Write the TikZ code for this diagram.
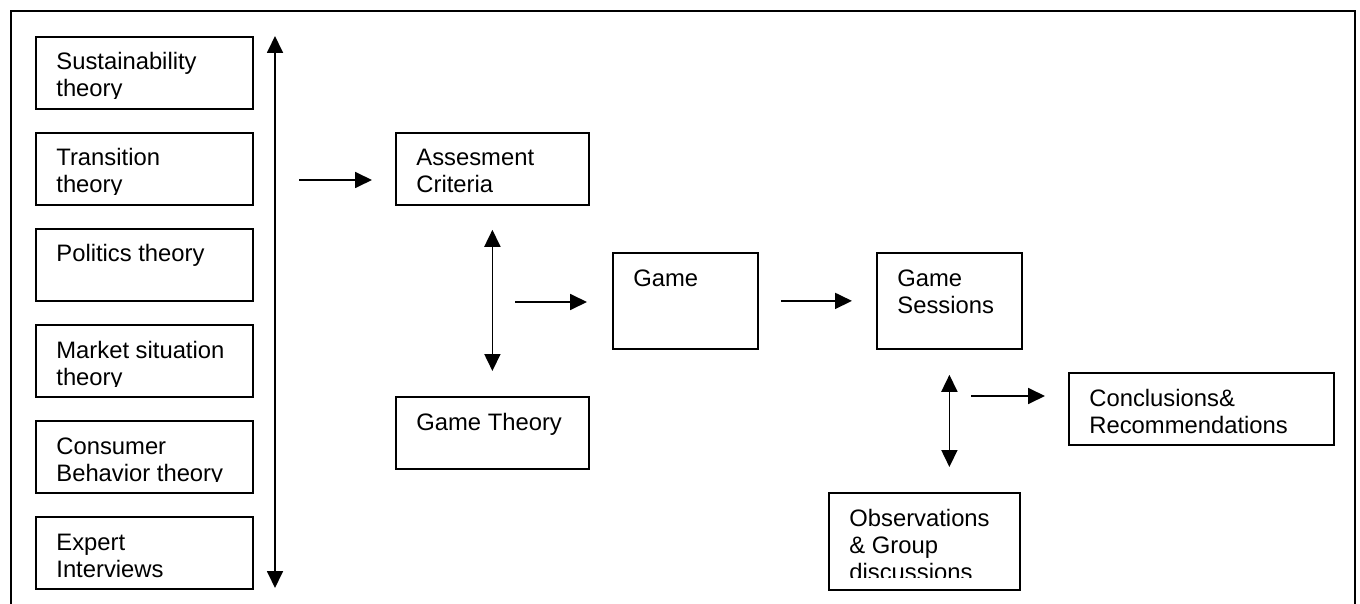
\documentclass[tikz,border=0pt]{standalone}
\usepackage{fontspec}
\setmainfont{Liberation Sans}
\usetikzlibrary{arrows.meta}

% Place clipped, left-aligned text inside a named box
% (#1 = bottom inset of the text area, #2 = box name, #3 = text)
\newcommand\boxlabel[3][5.5pt]{%
  \begin{scope}
    \clip ([yshift=#1]#2.south west) rectangle (#2.north east);
    \node[lbl] (#2-t) at ([xshift=10.5pt,yshift=-17pt]#2.north west)
      {\parbox[t]{200pt}{\raggedright #3}};
  \end{scope}}

\tikzset{
  box/.style={draw, line width=0.9pt, inner sep=0pt, anchor=north west},
  lbl/.style={anchor=base west, inner sep=0pt,
    font=\fontsize{11.9pt}{13.5pt}\selectfont},
  frame/.style={line width=0.9pt},
  tip/.style={Triangle[length=8.5pt,width=8pt]},
  conn/.style={line width=0.9pt, -{Triangle[length=8.5pt,width=8pt]}},
  dconn/.style={line width=0.9pt,
    {Triangle[length=8.5pt,width=8pt]}-{Triangle[length=8.5pt,width=8pt]}},
}

\begin{document}
\begin{tikzpicture}[x=0.5pt, y=-0.5pt]
  \useasboundingbox (0,0) rectangle (1360,604);

  % outer frame, open at the bottom
  \draw[frame] (11,604) -- (11,11) -- (1355,11) -- (1355,604);

  % theory column
  \node[box, minimum width=108.5pt, minimum height=36pt] (sus) at (35,36) {};
  \node[box, minimum width=108.5pt, minimum height=36pt] (tra) at (35,132) {};
  \node[box, minimum width=108.5pt, minimum height=36pt] (pol) at (35,228) {};
  \node[box, minimum width=108.5pt, minimum height=36pt] (mar) at (35,324) {};
  \node[box, minimum width=108.5pt, minimum height=36pt] (con) at (35,420) {};
  \node[box, minimum width=108.5pt, minimum height=36pt] (exp) at (35,516) {};
  \boxlabel{sus}{Sustainability\\theory}
  \boxlabel{tra}{Transition\\theory}
  \boxlabel{pol}{Politics theory}
  \boxlabel{mar}{Market situation\\theory}
  \boxlabel[6pt]{con}{Consumer\\Behavior theory}
  \boxlabel{exp}{Expert\\Interviews}

  % middle column
  \node[box, minimum width=96.5pt, minimum height=36pt] (ass) at (395,132) {};
  \node[box, minimum width=96.5pt, minimum height=36pt] (gth) at (395,396) {};
  \boxlabel{ass}{Assesment\\Criteria}
  \boxlabel{gth}{Game Theory}

  \node[box, minimum width=72.5pt, minimum height=48pt] (game) at (612,252) {};
  \boxlabel{game}{Game}

  \node[box, minimum width=72.5pt, minimum height=48pt] (sess) at (876,252) {};
  \boxlabel{sess}{Game\\Sessions}

  \node[box, minimum width=95.5pt, minimum height=48.5pt] (obs) at (828,492) {};
  \boxlabel[6.5pt]{obs}{Observations\\\& Group\\discussions}

  \node[box, minimum width=132.5pt, minimum height=36pt] (conc) at (1068,372) {};
  \boxlabel{conc}{Conclusions\&\\Recommendations}

  % free connector ends
  \coordinate (colT) at (275,36);
  \coordinate (colB) at (275,588);
  \coordinate (inA) at (299,180);
  \coordinate (inB) at (372,180);
  \coordinate (gmA) at (515,302);
  \coordinate (gmB) at (587,302);
  \coordinate (ccA) at (971,396);
  \coordinate (ccB) at (1045,396);

  % connectors
  \draw[dconn] (colT) -- (colB);
  \draw[conn] (inA) -- (inB);
  \draw[dconn, shorten <=12pt, shorten >=12.5pt] (ass.south) -- (gth.north);
  \draw[conn] (gmA) -- (gmB);
  \draw[conn, shorten <=11pt, shorten >=12pt] (game.east) -- (sess.west);
  \draw[dconn, shorten <=12.5pt, shorten >=12.5pt] (sess.south) -- (sess.south |- obs.north);
  \draw[conn] (ccA) -- (ccB);
\end{tikzpicture}
\end{document}
